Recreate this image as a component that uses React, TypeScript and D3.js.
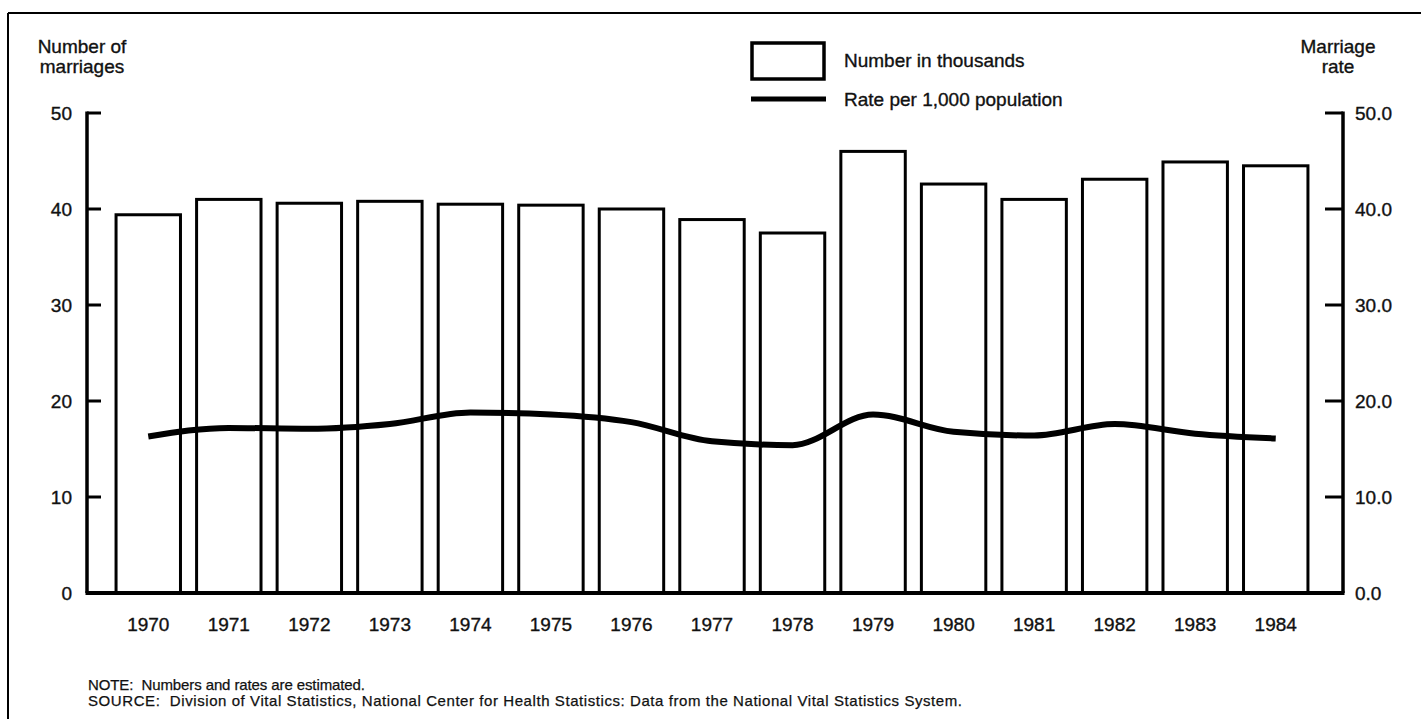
import React from "react";
import * as d3 from "d3";

const years = ["1970","1971","1972","1973","1974","1975","1976","1977","1978","1979","1980","1981","1982","1983","1984"];
const numberThousands = [39.4, 41.0, 40.6, 40.8, 40.5, 40.4, 40.0, 38.9, 37.5, 46.0, 42.6, 41.0, 43.1, 44.9, 44.5];
const ratePer1000 = [16.3, 17.2, 17.1, 17.6, 18.8, 18.6, 17.8, 15.8, 15.4, 18.6, 16.8, 16.4, 17.6, 16.6, 16.1];
const leftTicks = [0, 10, 20, 30, 40, 50];
const rightTicks = [0, 10, 20, 30, 40, 50];

const W = 1421;
const H = 719;
const FONT = "'Liberation Sans', Arial, Helvetica, sans-serif";
const TXT = { fill: "#111", stroke: "#111", strokeWidth: 0.35 };

export default function App() {
  const x = d3.scaleBand<string>().domain(years).range([108, 1316]).paddingInner(0.2).paddingOuter(0.1);
  const yL = d3.scaleLinear().domain([0, 50]).range([593, 113]);
  const yR = d3.scaleLinear().domain([0, 50]).range([593, 113]);
  const axisL = 87;
  const axisR = 1343;
  const line = d3
    .line<number>()
    .x((_, i) => (x(years[i]) as number) + x.bandwidth() / 2)
    .y((d) => yR(d))
    .curve(d3.curveMonotoneX);

  return (
    <svg
      width={W}
      height={H}
      style={{ position: "absolute", left: 0, top: 0, background: "#fff" }}
      fontFamily={FONT}
    >
      <rect x={0} y={0} width={W} height={H} fill="#fff" />
      {/* frame */}
      <line x1={8} y1={13} x2={W} y2={13} stroke="#000" strokeWidth={2} />
      <line x1={8} y1={13} x2={8} y2={H} stroke="#000" strokeWidth={2} />

      {/* axis titles */}
      <text x={82} y={53} textAnchor="middle" fontSize={19} {...TXT}>Number of</text>
      <text x={82} y={73} textAnchor="middle" fontSize={19} {...TXT}>marriages</text>
      <text x={1338} y={53} textAnchor="middle" fontSize={19} {...TXT}>Marriage</text>
      <text x={1338} y={73} textAnchor="middle" fontSize={19} {...TXT}>rate</text>

      {/* legend */}
      <rect x={752} y={43} width={72} height={36} fill="#fff" stroke="#000" strokeWidth={3.5} />
      <text x={844} y={67} fontSize={19} {...TXT}>Number in thousands</text>
      <line x1={751} y1={99} x2={826} y2={99} stroke="#000" strokeWidth={5} />
      <text x={844} y={106} fontSize={19} {...TXT}>Rate per 1,000 population</text>

      {/* bars */}
      {years.map((yr, i) => (
        <rect
          key={yr}
          x={x(yr)}
          y={yL(numberThousands[i])}
          width={x.bandwidth()}
          height={yL(0) - yL(numberThousands[i])}
          fill="none"
          stroke="#000"
          strokeWidth={3}
        />
      ))}

      {/* rate line */}
      <path d={line(ratePer1000) || ""} fill="none" stroke="#000" strokeWidth={6} strokeLinecap="butt" />

      {/* left axis */}
      <line x1={axisL} y1={yL(50) - 1.5} x2={axisL} y2={yL(0)} stroke="#000" strokeWidth={3.5} />
      {leftTicks.map((t) => (
        <g key={"l" + t}>
          <line x1={axisL} y1={yL(t)} x2={axisL + 14} y2={yL(t)} stroke="#000" strokeWidth={3} />
          <text x={72} y={yL(t) + 7} textAnchor="end" fontSize={19} {...TXT}>{t}</text>
        </g>
      ))}

      {/* right axis */}
      <line x1={axisR} y1={yR(50) - 1.5} x2={axisR} y2={yR(0)} stroke="#000" strokeWidth={3.5} />
      {rightTicks.map((t) => (
        <g key={"r" + t}>
          <line x1={axisR - 18} y1={yR(t)} x2={axisR} y2={yR(t)} stroke="#000" strokeWidth={3} />
          <text x={1355} y={yR(t) + 7} textAnchor="start" fontSize={19} {...TXT}>{t.toFixed(1)}</text>
        </g>
      ))}

      {/* bottom axis */}
      <line x1={axisL - 1.5} y1={593} x2={axisR + 1.5} y2={593} stroke="#000" strokeWidth={4} />
      {years.map((yr) => (
        <text
          key={"t" + yr}
          x={(x(yr) as number) + x.bandwidth() / 2}
          y={631}
          textAnchor="middle"
          fontSize={19}
          {...TXT}
        >
          {yr}
        </text>
      ))}

      {/* notes */}
      <text x={88} y={690} fontSize={15} textLength={277} lengthAdjust="spacing" {...TXT} strokeWidth={0.25} xmlSpace="preserve">NOTE:  Numbers and rates are estimated.</text>
      <text x={88} y={706} fontSize={15} textLength={874} lengthAdjust="spacing" {...TXT} strokeWidth={0.25} xmlSpace="preserve">SOURCE:  Division of Vital Statistics, National Center for Health Statistics: Data from the National Vital Statistics System.</text>
    </svg>
  );
}
